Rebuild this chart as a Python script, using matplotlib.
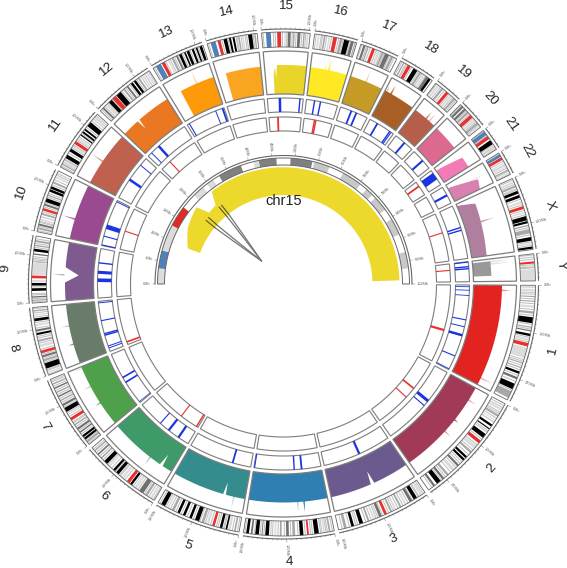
import numpy as np
import matplotlib
matplotlib.use('Agg')
from matplotlib import pyplot as plt

plt.rcParams['font.family'] = ['Liberation Sans', 'DejaVu Sans']

chrom_names = ['1', '2', '3', '4', '5', '6', '7', '8', '9', '10', '11', '12',
               '13', '14', '15', '16', '17', '18', '19', '20', '21', '22', 'X', 'Y']
chrom_sizes = [249, 243, 198, 191, 181, 171, 159, 146, 141, 135, 135, 133,
               115, 107, 102, 90, 81, 78, 59, 63, 48, 51, 155, 57]
hist_colors = ['#e3231f', '#a03a56', '#6b5a8e', '#2f7fb0', '#348c8c', '#3f9a6a',
               '#4ea14a', '#697b69', '#7f5a8e', '#9a4a90', '#c0604f', '#ea7722',
               '#fd9a0a', '#f9a520', '#e9d52a', '#ffe925', '#c59a25', '#a85f25',
               '#b55f4a', '#dc6a8e', '#f47ab5', '#d880b0', '#b07fa0', '#999999']

K, D, M, L, R, B = '#000000', '#707070', '#a8a8a8', '#dcdcdc', '#e8302c', '#5080b8'

# cytobands per chromosome: (start fraction, end fraction, colour)
bands_1 = [(.03, .05, L), (.09, .10, M), (.13, .14, M), (.17, .19, L), (.22, .24, M), (.27, .32, K), (.35, .36, M),
           (.38, .39, D), (.41, .43, K), (.45, .47, L), (.49, .52, R), (.53, .62, L), (.66, .67, M), (.70, .71, M),
           (.74, .76, K), (.79, .81, D), (.85, .90, K), (.92, .98, M)]
bands_2 = [(.05, .07, L), (.11, .13, M), (.16, .17, L), (.21, .23, K), (.25, .26, K), (.31, .35, K), (.38, .41, R),
           (.44, .47, L), (.50, .52, M), (.56, .58, K), (.59, .61, K), (.66, .68, D), (.71, .74, L), (.78, .80, M),
           (.83, .85, D), (.87, .91, K), (.93, .95, D)]
bands_3 = [(.03, .06, L), (.10, .14, K), (.16, .19, D), (.23, .25, L), (.29, .31, M), (.35, .37, L), (.40, .42, M),
           (.46, .49, R), (.52, .55, D), (.60, .62, L), (.66, .68, M), (.73, .77, K), (.83, .86, K), (.91, .94, M)]
bands_4 = [(.04, .06, M), (.10, .12, L), (.17, .22, K), (.28, .30, R), (.34, .38, K), (.43, .46, M), (.50, .53, D),
           (.58, .60, M), (.64, .66, L), (.72, .76, K), (.79, .80, D), (.83, .87, K), (.90, .92, D), (.94, .97, K)]
bands_5 = [(.04, .06, M), (.10, .13, L), (.14, .16, K), (.20, .23, K), (.29, .32, R), (.36, .39, L), (.42, .45, M),
           (.48, .53, K), (.57, .60, K), (.65, .68, K), (.72, .75, K), (.79, .82, M), (.86, .88, L), (.91, .96, K)]
bands_6 = [(.03, .06, L), (.10, .13, M), (.16, .22, D), (.26, .29, L), (.33, .36, K), (.37, .41, R), (.46, .49, L),
           (.54, .58, K), (.60, .63, K), (.68, .70, L), (.73, .78, K), (.82, .84, M), (.88, .90, D), (.94, .96, M)]
bands_7 = [(.03, .06, M), (.08, .11, K), (.12, .15, K), (.19, .21, D), (.24, .27, D), (.31, .33, M), (.39, .43, R),
           (.47, .49, L), (.52, .58, K), (.61, .64, D), (.68, .70, M), (.74, .76, D), (.80, .82, M), (.86, .88, D),
           (.92, .94, M)]
bands_8 = [(.03, .05, L), (.10, .18, K), (.21, .24, M), (.27, .30, D), (.33, .37, R), (.42, .46, L), (.50, .53, M),
           (.60, .63, K), (.65, .68, D), (.73, .76, L), (.80, .84, K), (.88, .90, L), (.94, .96, M)]
bands_9 = [(.03, .05, M), (.08, .10, D), (.18, .22, K), (.26, .30, K), (.37, .41, R), (.42, .60, L), (.62, .63, M),
           (.66, .67, M), (.72, .74, D), (.77, .81, K), (.85, .87, M), (.91, .94, M)]
bands_10 = [(.04, .07, M), (.10, .13, D), (.18, .21, L), (.27, .30, M), (.34, .38, R), (.42, .45, D), (.48, .54, K),
            (.58, .60, M), (.65, .69, K), (.70, .74, K), (.79, .82, M), (.88, .91, L)]
bands_11 = [(.04, .06, M), (.08, .11, L), (.16, .22, K), (.28, .33, K), (.36, .39, L), (.42, .47, R), (.50, .53, L),
            (.58, .60, K), (.63, .66, K), (.68, .71, K), (.76, .84, K), (.89, .92, L)]
bands_12 = [(.05, .08, D), (.12, .17, L), (.19, .25, K), (.27, .34, R), (.35, .44, K), (.49, .52, M), (.56, .59, D),
            (.64, .68, K), (.70, .74, K), (.78, .81, M), (.86, .89, L), (.93, .96, L)]
bands_13 = [(.06, .16, B), (.18, .24, R), (.30, .33, L), (.38, .42, M), (.47, .50, D), (.53, .58, K), (.63, .66, K),
            (.68, .73, K), (.78, .82, K), (.86, .89, K), (.93, .98, K)]
bands_14 = [(.07, .17, B), (.21, .27, R), (.33, .40, K), (.44, .48, K), (.51, .55, K), (.62, .65, M), (.70, .73, L),
            (.82, .90, K), (.94, .97, M)]
bands_15 = [(.09, .19, B), (.32, .40, R), (.47, .50, L), (.54, .60, D), (.65, .68, M), (.74, .80, D), (.86, .89, M),
            (.93, .97, L)]
bands_16 = [(.08, .12, L), (.22, .26, M), (.33, .37, L), (.44, .53, R), (.60, .66, M), (.70, .82, K), (.86, .93, D),
            (.95, .98, M)]
bands_17 = [(.07, .13, D), (.18, .22, M), (.31, .39, R), (.46, .53, L), (.58, .63, M), (.67, .78, D), (.83, .90, M)]
bands_18 = [(.08, .12, M), (.22, .31, R), (.40, .52, K), (.58, .64, M), (.70, .75, L), (.80, .88, D), (.88, .95, K)]
bands_19 = [(.08, .16, L), (.26, .34, M), (.47, .58, R), (.66, .74, L), (.82, .90, M)]
bands_20 = [(.06, .14, D), (.18, .26, D), (.32, .40, M), (.47, .59, R), (.66, .74, L), (.80, .88, M), (.92, .97, L)]
bands_21 = [(.06, .24, B), (.30, .45, R), (.52, .72, K), (.78, .84, L), (.88, .95, L)]
bands_22 = [(.06, .18, B), (.20, .32, R), (.44, .50, L), (.60, .66, L), (.76, .82, M), (.90, .95, L)]
bands_X = [(.04, .07, L), (.10, .13, M), (.18, .22, K), (.24, .28, K), (.33, .36, L), (.40, .44, R), (.48, .50, L),
           (.54, .60, K), (.61, .64, K), (.66, .68, M), (.72, .78, M), (.83, .88, K), (.91, .93, L), (.96, .99, K)]
bands_Y = [(.28, .36, R), (.42, .46, L), (.50, .53, M), (.56, 1.0, L)]
chrom_bands = [bands_1, bands_2, bands_3, bands_4, bands_5, bands_6, bands_7, bands_8, bands_9, bands_10, bands_11,
               bands_12, bands_13, bands_14, bands_15, bands_16, bands_17, bands_18, bands_19, bands_20, bands_21,
               bands_22, bands_X, bands_Y]

# thin grey cytoband stripes per chromosome (fractions)
fine_1 = [.015, .06, .075, .115, .155, .205, .255, .33, .37, .44, .48, .55, .58, .635, .65, .685, .725, .775, .83, .91]
fine_2 = [.02, .04, .085, .10, .145, .185, .275, .29, .365, .43, .485, .54, .625, .645, .695, .755, .815, .86, .965]
fine_3 = [.02, .075, .085, .155, .21, .27, .33, .385, .44, .51, .565, .585, .64, .70, .79, .81, .88, .96]
fine_4 = [.02, .075, .09, .135, .15, .24, .26, .32, .40, .48, .55, .62, .68, .70, .775, .815, .88, .985]
fine_5 = [.02, .08, .175, .185, .25, .27, .34, .405, .47, .55, .625, .70, .77, .84, .895, .975]
fine_6 = [.015, .08, .145, .24, .31, .44, .51, .525, .59, .655, .715, .80, .86, .92, .975]
fine_7 = [.015, .07, .17, .225, .29, .35, .365, .45, .505, .595, .66, .72, .78, .84, .90, .96, .98]
fine_8 = [.015, .07, .085, .195, .255, .315, .39, .48, .555, .58, .70, .78, .86, .92, .98]
fine_9 = [.015, .065, .12, .14, .24, .33, .44, .47, .50, .53, .56, .59, .615, .645, .69, .83, .89, .96]
fine_10 = [.02, .085, .15, .165, .24, .32, .40, .465, .56, .62, .765, .85, .93, .96]
fine_11 = [.02, .07, .125, .14, .25, .35, .40, .49, .55, .615, .735, .865, .94, .97]
fine_12 = [.03, .10, .18, .26, .46, .54, .62, .76, .84, .91, .98]
fine_13 = [.03, .26, .35, .44, .51, .60, .75, .84, .91]
fine_14 = [.03, .30, .42, .58, .60, .68, .76, .79, .92]
fine_15 = [.03, .24, .28, .43, .52, .63, .71, .83, .91]
fine_16 = [.04, .16, .19, .29, .40, .57, .68, .84]
fine_17 = [.03, .16, .26, .43, .56, .65, .80, .93]
fine_18 = [.04, .16, .19, .34, .55, .67, .78]
fine_19 = [.04, .21, .40, .62, .78, .94]
fine_20 = [.03, .29, .44, .62, .77, .90]
fine_21 = [.03, .27, .75, .86, .97]
fine_22 = [.03, .38, .55, .70, .85, .97]
fine_X = [.02, .085, .15, .165, .30, .38, .46, .52, .70, .80, .895, .945]
fine_Y = [.04, .12, .20, .40, .48]
chrom_fine = [fine_1, fine_2, fine_3, fine_4, fine_5, fine_6, fine_7, fine_8, fine_9, fine_10, fine_11, fine_12,
              fine_13, fine_14, fine_15, fine_16, fine_17, fine_18, fine_19, fine_20, fine_21, fine_22, fine_X, fine_Y]

# outer edge of the coverage area per chromosome: (fraction, radius)
F = [(0, 218.5), (1, 218.5)]
hist_outer = [F, F, F, F, F, F, F, F, F, F, F, F,
              [(.25, 218.5), (1, 218.5)], [(.2, 218.5), (1, 218.5)], [(.21, 210), (.26, 219), (1, 219)], F, F, F, F, F,
              [(.21, 195), (.44, 219), (1, 219)], [(.22, 193), (.55, 221), (1, 218)],
              [(.04, 192), (.12, 208), (1, 205)], [(.1, 208), (.75, 208)]]
# (chromosome, fraction, top radius, opacity)
spikes = [(0, .05, 228, .5), (0, .93, 231, .4), (1, .14, 227, .4), (1, .38, 223, .9), (1, .53, 226, .5),
          (3, .30, 229, .9), (3, .38, 228, .4), (4, .15, 231, .3), (5, .36, 228, .5), (6, .38, 224, .8),
          (6, .67, 226, .4), (6, .97, 228, .2), (7, .33, 224, .8), (7, .64, 226, .4), (8, .44, 231, .5),
          (9, .36, 231, .8), (10, .44, 231, .6), (12, .62, 232, .4), (15, .40, 226, .4), (15, .50, 230, .9),
          (16, .49, 230, .4), (17, .06, 225, .4), (17, .21, 228, .9), (18, .56, 227, .8), (18, .72, 228, .4),
          (21, .47, 231, .3), (22, .43, 221, .8), (23, .12, 230, .3), (23, .22, 230, .3)]
# (chromosome, fraction, lowest radius, half width in fraction)
notches = [(2, .47, 205, .025), (4, .28, 206, .02), (5, .17, 206, .025), (8, .44, 205, .14),
           (11, .35, 208, .025), (14, .27, 205, .025)]

# (chromosome, fraction, line width)
blue_lines = [(0, .02, .6), (0, .06, .6), (0, .12, .6), (0, .40, .8), (0, .48, .7), (0, .58, 1.8), (0, .83, .8),
              (0, .99, .6), (1, .40, 2.2), (1, .47, .8), (2, .47, 1.6), (3, .29, 1.3), (3, .40, 1), (3, .99, .8),
              (4, .29, 1.3), (5, .19, 1.6), (5, .39, 1.6), (5, .57, .8), (6, .02, .5), (6, .44, 1.2), (6, .54, 1.2),
              (7, .07, .7), (7, .11, .7), (7, .33, 1), (7, .36, 1), (7, .62, .8), (7, .97, .7), (8, .36, 2.6),
              (8, .52, 2.2), (8, .71, 1), (9, .01, .8), (9, .20, .8), (9, .38, 1.6), (9, .41, 1.6), (9, .44, 1),
              (9, .97, .7), (10, .44, 1.8), (10, .82, .7), (11, .10, .7), (11, .31, 1.8), (12, .06, .8),
              (12, .78, .7), (12, .96, 1.3), (14, .35, 1.8), (14, .91, 1), (15, .26, 1), (15, .45, 1), (16, .40, 1.3),
              (16, .59, 1.3), (17, .31, 1.3), (17, .84, 1), (17, .90, .8), (18, .53, 1.4), (19, .56, 1.5),
              (20, .40, 5.5), (21, .51, 1.6), (22, .42, 1), (22, .47, 1), (23, .02, .8), (23, .25, 1), (23, .35, 1)]
red_lines = [(0, .58, 1.6), (1, .39, 1.2), (1, .54, .8), (5, .03, 1), (5, .37, .8), (7, .06, 1.2), (9, .44, .8),
             (11, .26, .8), (14, .28, 1.3), (15, .37, 1), (15, .42, 1), (20, .33, 1.3), (22, .41, .8), (23, .36, .8)]

# zoomed chromosome 15 panel
zoom_bands = [(0, .04, L), (.04, .086, B), (.086, .154, L), (.154, .208, '#e02a28'), (.249, .279, L), (.292, .311, L),
              (.329, .39, '#808080'), (.423, .437, L), (.437, .482, '#808080'), (.518, .574, '#808080'),
              (.579, .619, '#c8c8c8'), (.657, .709, '#c8c8c8'), (.729, .749, '#c8c8c8'), (.76, .799, '#c8c8c8'),
              (.828, .871, '#c8c8c8'), (.918, .96, '#c8c8c8')]
zoom_outer = [(.113, 102), (.17, 111), (.23, 116), (.243, 103), (.274, 104), (.29, 117), (.99, 116)]
zoom_labels = ['0Mb', '6Mb', '12Mb', '18Mb', '24Mb', '30Mb', '36Mb', '42Mb', '48Mb', '54Mb', '60Mb', '66Mb',
               '72Mb', '78Mb', '84Mb', '90Mb', '96Mb', '102Mb']
# ribbon end fractions on the chr15 coverage area
link_ends = [(.219, .231), (.278, .288)]
link_tip = (.257, 32)

GAP = 1.0
START = 0.3
FRAME = '#7d7d7d'
deg_per_mb = (360 - GAP * len(chrom_sizes)) / sum(chrom_sizes)

chrom_start = []
cur = START
for size in chrom_sizes:
    chrom_start.append(cur)
    cur += size * deg_per_mb + GAP
chrom_span = [s * deg_per_mb for s in chrom_sizes]


def xy(r, th):
    th = np.radians(th)
    return r * np.cos(th), -r * np.sin(th)


def chrom_theta(i, frac):
    return chrom_start[i] + np.asarray(frac) * chrom_span[i]


def sector(ax, th0, th1, r0, r1, **kw):
    th = np.linspace(th0, th1, max(2, int(abs(th1 - th0) * 2) + 2))
    xo, yo = xy(r1, th)
    xi, yi = xy(r0, th[::-1])
    ax.fill(np.r_[xo, xi], np.r_[yo, yi], **kw)


def radial_text(ax, r, th, s, **kw):
    x, y = xy(r, th)
    left = np.cos(np.radians(th)) < 0
    rot = -th + 180 if left else -th
    ax.text(x, y, s, rotation=rot, rotation_mode='anchor', ha='right' if left else 'left', va='center', **kw)


def draw_ideogram(ax):
    for i, bands in enumerate(chrom_bands):
        for f in chrom_fine[i]:
            th = chrom_theta(i, f)
            sector(ax, th - .12, th + .12, 237, 252, fc='#c0c0c0', ec='none')
        for f0, f1, col in bands:
            sector(ax, chrom_theta(i, f0), chrom_theta(i, f1), 237, 252, fc=col, ec='none')
        sector(ax, chrom_theta(i, 0), chrom_theta(i, 1), 237, 252, fc='none', ec='#666666', lw=.6)


def draw_axis(ax):
    for i, size in enumerate(chrom_sizes):
        th = np.linspace(chrom_theta(i, 0), chrom_theta(i, 1), 60)
        x, y = xy(255, th)
        ax.plot(x, y, color='#666666', lw=.8, solid_capstyle='butt')
        for mb in range(0, size + 1, 10):
            t = chrom_theta(i, mb / size)
            ln = 3 if mb % 100 == 0 else 1.2
            xt, yt = xy(np.array([255, 255 + ln]), t)
            ax.plot(xt, yt, color='#777777', lw=.35)
        radial_text(ax, 260, chrom_theta(i, 0), '0Mb', fontsize=2.8, color='#666666')
        if size >= 100:
            radial_text(ax, 260, chrom_theta(i, 100 / size), '100Mb', fontsize=2.8, color='#666666')
        if size >= 180 and i != 5:
            radial_text(ax, 260, chrom_theta(i, .985 if i > 1 else 200 / size), '%dMb' % (size - size % 10),
                        fontsize=2.8, color='#666666')


def draw_hist(ax):
    for i, edge in enumerate(hist_outer):
        fr = np.array([p[0] for p in edge])
        rr = np.array([p[1] for p in edge])
        ff = np.linspace(fr[0], fr[-1], 60)
        x0, y0 = xy(np.interp(ff, fr, rr), chrom_theta(i, ff))
        x1, y1 = xy(190, chrom_theta(i, ff[::-1]))
        ax.fill(np.r_[x0, x1], np.r_[y0, y1], fc=hist_colors[i], ec='none')
    for i, f, top, al in spikes:
        th = chrom_theta(i, f)
        base = np.interp(f, [p[0] for p in hist_outer[i]], [p[1] for p in hist_outer[i]])
        xs, ys = xy(np.array([base - 1, top, base - 1]), np.array([th - .25, th, th + .25]))
        ax.fill(xs, ys, fc=hist_colors[i], ec='none', alpha=al)
    for i, f, low, hw in notches:
        xs, ys = xy(np.array([219.5, low, 219.5]), chrom_theta(i, np.array([f - hw, f, f + hw])))
        ax.fill(xs, ys, fc='white', ec='none')
    for i in range(len(chrom_sizes)):
        sector(ax, chrom_theta(i, 0), chrom_theta(i, 1), 190, 233, fc='none', ec=FRAME, lw=.9)


def draw_lines_track(ax, lines, r0, r1, color):
    for i, f, lw in lines:
        xs, ys = xy(np.array([r0, r1]), chrom_theta(i, f))
        ax.plot(xs, ys, color=color, lw=lw, solid_capstyle='butt')
    for i in range(len(chrom_sizes)):
        sector(ax, chrom_theta(i, 0), chrom_theta(i, 1), r0, r1, fc='none', ec=FRAME, lw=.8)


def zoom_theta(f):
    return 180 + 180 * np.asarray(f)


def draw_zoom(ax):
    for f0, f1, col in zoom_bands:
        sector(ax, zoom_theta(f0), zoom_theta(f1), 119, 126, fc=col, ec='none')
    sector(ax, 180, 360, 119, 126, fc='none', ec='#666666', lw=.7)
    x, y = xy(128.5, np.linspace(180, 360, 200))
    ax.plot(x, y, color='#666666', lw=.8)
    for n, lab in enumerate(zoom_labels):
        t = zoom_theta(n / (len(zoom_labels) - 1))
        xt, yt = xy(np.array([128.5, 131]), t)
        ax.plot(xt, yt, color='#777777', lw=.35)
        radial_text(ax, 133, t, lab, fontsize=2.8, color='#666666')
    fr = np.array([p[0] for p in zoom_outer])
    rr = np.array([p[1] for p in zoom_outer])
    ff = np.unique(np.r_[np.linspace(fr[0], fr[-1], 300), fr])
    x0, y0 = xy(np.interp(ff, fr, rr), zoom_theta(ff))
    x1, y1 = xy(89, zoom_theta(ff[::-1]))
    ax.fill(np.r_[x0, x1], np.r_[y0, y1], fc='#ecd92c', ec='none')
    tipx, tipy = xy(link_tip[1], zoom_theta(link_tip[0]))
    tt = np.linspace(0, 1, 30)
    for f0, f1 in link_ends:
        for f in (f0, f1):
            xs, ys = xy(np.array([100, 88]), zoom_theta(f))
            ax.plot(xs, ys, color='#555533', lw=.8)
            # slightly bowed ribbon edge down to the common tip
            cx, cy = xy(58, zoom_theta(f + (link_tip[0] - f) * .25))
            bx = (1 - tt) ** 2 * xs[1] + 2 * tt * (1 - tt) * cx + tt ** 2 * tipx
            by = (1 - tt) ** 2 * ys[1] + 2 * tt * (1 - tt) * cy + tt ** 2 * tipy
            ax.plot(bx, by, color='#757575', lw=.9)
    ax.text(*xy(83, 270), 'chr15', fontsize=10.5, color='#222222', ha='center', va='center')


def draw_labels(ax):
    for i, name in enumerate(chrom_names):
        th = chrom_start[i] + chrom_span[i] / 2
        up = th + 90
        rot = -(up % 360)
        if 100 < up % 360 < 260:
            rot += 180
        ax.text(*xy(278, th), name, fontsize=9.5, color='#222222', rotation=rot, ha='center', va='center',
                rotation_mode='anchor')


fig = plt.figure(figsize=(5.67, 5.68), dpi=100)
ax = fig.add_axes([0, 0, 1, 1])
ax.set_xlim(-283.5, 283.5)
ax.set_ylim(-284, 284)
ax.axis('off')

draw_ideogram(ax)
draw_axis(ax)
draw_hist(ax)
draw_lines_track(ax, blue_lines, 172, 186, '#1a35e0')
draw_lines_track(ax, red_lines, 153, 167, '#e8302c')
draw_zoom(ax)
draw_labels(ax)

fig.savefig('out.png', dpi=100)
